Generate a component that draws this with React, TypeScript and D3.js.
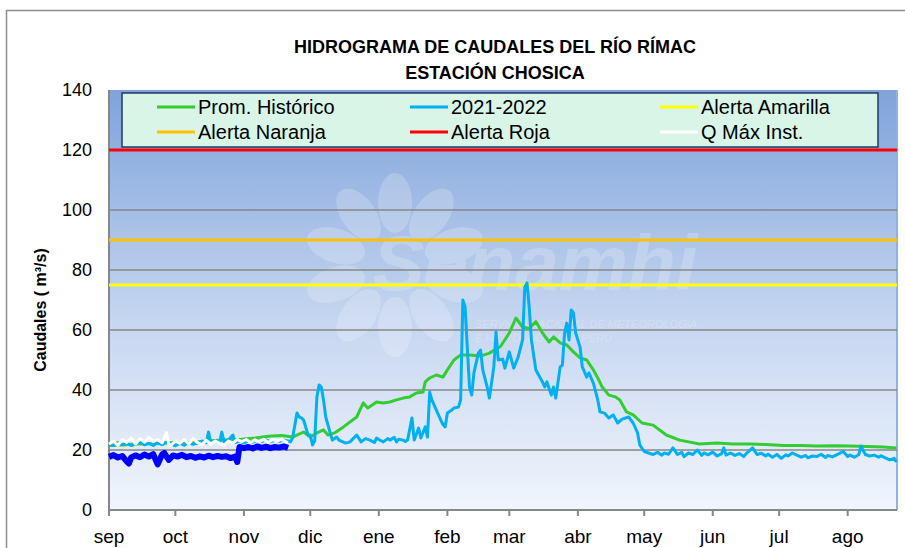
import * as d3 from "d3";

const START = Date.UTC(2021, 8, 1);
const END_DAY = 356.3;

const MONTHS = ["sep", "oct", "nov", "dic", "ene", "feb", "mar", "abr", "may", "jun", "jul", "ago"];
const Y_TICKS = [0, 20, 40, 60, 80, 100, 120, 140];

// Prom. Histórico
const histDays = [0, 6, 12, 18, 24, 30, 36, 42, 48, 54, 60, 66, 72, 78, 83, 88, 91, 94, 97, 99, 102, 106, 112, 115, 117, 121, 124, 127, 130, 133, 136, 139, 142, 143, 145, 148, 151, 153, 156, 159, 163, 168, 172, 177, 181, 184, 187, 190, 193, 196, 199, 201, 204, 207, 210, 213, 216, 219, 221, 223, 226, 229, 231, 234, 237, 241, 246, 252, 258, 267, 275, 282, 290, 297, 305, 313, 320, 328, 335, 343, 350, 356];
const histVals = [21.5, 21.7, 22, 22.1, 22.3, 22.5, 22.6, 22.8, 23.2, 23.4, 23.6, 24, 24.6, 24.8, 24.3, 26, 24.3, 25.7, 26.7, 25, 25.7, 27.7, 31, 35.7, 34, 36, 35.7, 36, 36.7, 37.3, 37.7, 39, 39.3, 42.7, 44, 45, 44.3, 46.7, 50, 51.7, 51.7, 51.3, 52.3, 54.5, 59, 64, 61, 60.5, 62.8, 59, 56, 57.7, 55.7, 55, 52.7, 50.7, 50, 46.7, 44, 41, 38.3, 37.7, 36.7, 32.7, 31.7, 29, 28.3, 25, 23.3, 22, 22.3, 22, 22, 21.8, 21.5, 21.5, 21.3, 21.4, 21.3, 21.2, 21, 20.7];

// 2021-2022
const curDays = [0, 2, 4, 6, 8, 10, 12, 14, 16, 18, 20, 22, 24, 26, 28, 30, 32, 34, 36, 38, 40, 42, 44, 45, 46, 48, 50, 51, 52, 54, 56, 57, 59, 61, 63, 65, 67, 69, 71, 73, 75, 77, 79, 81, 82, 83, 85, 86, 87, 88, 90, 91, 92, 93, 94, 95, 96, 97, 98, 100, 101, 103, 104, 107, 109, 112, 114, 116, 118, 120, 121, 122, 124, 126, 127, 129, 130, 131, 133, 134, 135, 137, 138, 140, 141, 143, 144, 145, 146, 148, 150, 151, 152, 153, 155, 156, 158, 159, 160, 161, 162, 163, 164, 165, 167, 168, 169, 171, 172, 174, 175, 176, 178, 179, 181, 183, 185, 187, 188, 189, 190, 191, 193, 196, 197, 198, 200, 201, 202, 204, 205, 206, 207, 208, 209, 210, 211, 213, 214, 216, 217, 219, 221, 222, 224, 226, 228, 230, 232, 235, 237, 239, 240, 242, 244, 246, 248, 250, 251, 253, 255, 257, 259, 260, 262, 264, 266, 268, 269, 271, 273, 275, 277, 278, 279, 281, 283, 285, 287, 288, 291, 293, 295, 297, 298, 300, 302, 304, 306, 307, 309, 311, 313, 315, 316, 318, 320, 322, 324, 325, 327, 329, 332, 334, 335, 337, 339, 340, 342, 344, 346, 348, 349, 351, 353, 355, 356];
const curVals = [22, 21.5, 22.5, 21.8, 22.3, 21.5, 22, 22.8, 21.7, 22.2, 21.5, 22.4, 21.8, 22.6, 22, 21.4, 22.2, 21.6, 22.5, 21.9, 22.3, 23, 22.4, 26, 22.6, 23, 22.4, 26, 22.8, 23.3, 25, 22.5, 23, 22.4, 23, 22.6, 23.2, 22.8, 23.4, 22.7, 23.2, 22.9, 23.3, 23, 22.7, 24, 32.3, 31, 30.7, 30, 25, 25, 21.7, 23, 37.7, 41.7, 41, 36.7, 31, 25.7, 23.3, 24.3, 23.3, 22.3, 22.7, 25, 22.7, 23.8, 23.3, 22.5, 24, 23.5, 22.7, 23.8, 23.3, 24.2, 22.7, 23.6, 23.3, 22.8, 23.3, 30.7, 23.3, 27.3, 24, 27.7, 24.3, 39.3, 36.7, 33.3, 30, 28.5, 27.7, 32.3, 33.3, 34, 34.3, 36.7, 70, 67.7, 54.3, 41, 38.3, 45.7, 52.3, 53.3, 46.7, 41, 37.3, 47.7, 59.3, 50, 50.3, 47.3, 52.7, 47.3, 51, 56.7, 74.3, 75.7, 67.7, 56.7, 46.7, 42.7, 41, 42.7, 38.3, 41, 37.3, 47.7, 48.3, 59, 62.3, 56.7, 66.7, 65.7, 59, 54.3, 47.7, 44.3, 45.7, 42.3, 36.7, 32.7, 32.3, 30.7, 31.7, 29, 30.3, 31, 29, 25.7, 21.7, 19.5, 19, 18.5, 19.2, 18.3, 19, 18.6, 20.7, 18.5, 19.2, 17.8, 19, 18.5, 20, 18.2, 19, 18.4, 19.3, 18, 18.8, 20.7, 18.3, 19, 18.2, 18.8, 17.8, 18.7, 20.7, 18.5, 18.9, 18, 18.6, 17.6, 18.5, 17.2, 18.4, 18, 19, 18.3, 17.6, 18.2, 17.4, 18, 17.8, 18.6, 17.5, 18.2, 17.7, 18.4, 19.5, 17.8, 18.3, 17.6, 18.4, 21.3, 18.5, 18, 18.3, 17.6, 18.1, 17.4, 16.7, 17.2, 16];

// Q Máx Inst.
const qmaxDays = [0, 2, 4, 6, 8, 10, 12, 14, 16, 18, 20, 22, 24, 26, 27, 28, 30, 32, 34, 36, 38, 40, 42, 44, 46, 48, 50, 52, 54, 56, 58, 60, 62, 64, 66, 68, 70, 72, 74, 76, 78, 80, 81];
const qmaxVals = [22, 23, 21.5, 23.5, 22.5, 24, 22, 23.8, 22.6, 24.2, 22.8, 23.5, 22.4, 25.8, 22, 21.5, 23, 22.2, 23.5, 22, 23.8, 22.5, 21.8, 23.2, 22, 23, 22.2, 21.5, 23, 22.3, 23.5, 22.8, 23.5, 22.5, 23.4, 22.8, 23.6, 22.5, 23.5, 23, 23.6, 22.7, 22.5];

// serie azul oscuro (sin leyenda)
const darkDays = [0, 2, 4, 6, 8, 9, 10, 12, 14, 16, 18, 20, 22, 24, 25, 27, 29, 31, 33, 35, 37, 39, 41, 43, 45, 47, 49, 51, 53, 55, 57, 58, 59, 61, 63, 65, 67, 69, 71, 73, 75, 77, 79, 81];
const darkVals = [17.7, 18.3, 17.5, 18, 16.2, 15.5, 17.5, 18.2, 17.6, 18.5, 17.8, 18.6, 15.2, 18.5, 19, 16.7, 18.2, 17.8, 18.4, 17.6, 18, 17.4, 17.9, 17.5, 18.1, 17.6, 18, 17.7, 17.9, 17.3, 17.8, 16, 21, 20.6, 21, 20.5, 21.2, 20.7, 21.1, 20.6, 21, 20.8, 21.2, 20.7];

const ALERTS = [
  { label: "Alerta Amarilla", value: 75, color: "#ffff00" },
  { label: "Alerta Naranja", value: 90, color: "#ffc000" },
  { label: "Alerta Roja", value: 120, color: "#ff0000" },
];

const LEGEND = [
  { label: "Prom. Histórico", color: "#33cc33" },
  { label: "2021-2022", color: "#00b0f0" },
  { label: "Alerta Amarilla", color: "#ffff00" },
  { label: "Alerta Naranja", color: "#ffc000" },
  { label: "Alerta Roja", color: "#ff0000" },
  { label: "Q Máx Inst.", color: "#ffffff" },
];

const toDate = (d: number) => new Date(START + d * 864e5);

const FONT = "'Liberation Sans Narrow', 'Liberation Sans', Arial, sans-serif";

export default function App() {
  const W = 905, H = 548;
  const m = { left: 109, right: 897, top: 90, bottom: 510 };

  const x = d3.scaleUtc().domain([toDate(0), toDate(END_DAY)]).range([m.left, m.right]);
  const y = d3.scaleLinear().domain([0, 140]).range([m.bottom, m.top]);

  const monthTicks = d3.utcMonth.range(toDate(0), toDate(END_DAY));

  const mkLine = (days: number[], vals: number[]) =>
    d3.line<number>()
      .x((_, i) => x(toDate(days[i])))
      .y(v => y(v))(vals) ?? "";

  const legendCols = [157, 410, 660];
  const legendRows = [107, 132];

  // petalos de la marca de agua
  const petals = d3.range(10).map(i => i * 36);

  return (
    <svg width={W} height={H} style={{ display: "block", position: "absolute", left: 0, top: 0, background: "#fff" }}>
      <defs>
        <linearGradient id="bg" x1="0" y1="0" x2="0" y2="1">
          <stop offset="0%" stopColor="#7fa3da" />
          <stop offset="55%" stopColor="#c6d6f0" />
          <stop offset="100%" stopColor="#f1f5fc" />
        </linearGradient>
      </defs>

      {/* marco exterior */}
      <rect x={6.5} y={10.5} width={W + 20} height={H + 20} fill="#fff" stroke="#8c8c8c" strokeWidth={1.5} />

      {/* titulo */}
      <text x={495} y={53} textAnchor="middle" fontFamily={FONT} fontWeight="bold" fontSize={18}>
        HIDROGRAMA DE CAUDALES DEL RÍO RÍMAC
      </text>
      <text x={495} y={79} textAnchor="middle" fontFamily={FONT} fontWeight="bold" fontSize={18}>
        ESTACIÓN CHOSICA
      </text>

      {/* area de trazado */}
      <rect x={m.left} y={m.top} width={m.right - m.left} height={m.bottom - m.top} fill="url(#bg)" />
      <line x1={m.right} x2={m.right} y1={m.top} y2={m.bottom} stroke="#8eb4e3" strokeWidth={2} />

      {/* marca de agua */}
      <g opacity={0.2} fill="#ffffff">
        <g transform="translate(395,265)">
          {petals.map(a => (
            <ellipse key={a} cx={0} cy={-62} rx={17} ry={30} transform={`rotate(${a})`} />
          ))}
        </g>
        <text x={535} y={290} textAnchor="middle" fontFamily="'Liberation Sans', Arial, sans-serif" fontStyle="italic" fontWeight="bold" fontSize={78}>Senamhi</text>
        <text x={475} y={328} fontFamily="'Liberation Sans', Arial, sans-serif" fontStyle="italic" fontSize={11}>SERVICIO NACIONAL DE METEOROLOGÍA</text>
        <text x={475} y={342} fontFamily="'Liberation Sans', Arial, sans-serif" fontStyle="italic" fontSize={11}>E HIDROLOGÍA DEL PERÚ</text>
      </g>

      {/* rejilla */}
      {Y_TICKS.filter(t => t > 0 && t < 140).map(t => (
        <line key={t} x1={m.left} x2={m.right} y1={y(t)} y2={y(t)} stroke="#878787" strokeWidth={1.5} />
      ))}

      {/* ejes */}
      <line x1={m.left} x2={m.left} y1={m.top} y2={m.bottom} stroke="#878787" strokeWidth={2} />
      <line x1={m.left} x2={m.right} y1={m.bottom} y2={m.bottom} stroke="#878787" strokeWidth={2} />
      {monthTicks.map((d, i) => (
        <g key={i}>
          <line x1={x(d)} x2={x(d)} y1={m.bottom} y2={m.bottom + 6} stroke="#878787" strokeWidth={2} />
          <text x={x(d)} y={543} textAnchor="middle" fontFamily={FONT} fontSize={19}>{MONTHS[i]}</text>
        </g>
      ))}
      {Y_TICKS.map(t => (
        <text key={t} x={92} y={y(t) + 6} textAnchor="end" fontFamily={FONT} fontSize={18}>{t}</text>
      ))}
      <text transform={`translate(46,${310}) rotate(-90)`} textAnchor="middle" fontFamily={FONT} fontWeight="bold" fontSize={16}>
        Caudales ( m³/s)
      </text>

      {/* alertas */}
      {ALERTS.map(a => (
        <line key={a.label} x1={m.left} x2={m.right} y1={y(a.value)} y2={y(a.value)} stroke={a.color} strokeWidth={3} />
      ))}

      {/* series */}
      <path d={mkLine(histDays, histVals)} fill="none" stroke="#33cc33" strokeWidth={3} strokeLinejoin="round" />
      <path d={mkLine(curDays, curVals)} fill="none" stroke="#00b0f0" strokeWidth={3} strokeLinejoin="round" />
      <path d={mkLine(darkDays, darkVals)} fill="none" stroke="#0000ff" strokeWidth={6} strokeLinejoin="round" />
      <path d={mkLine(qmaxDays, qmaxVals)} fill="none" stroke="#ffffff" strokeWidth={3} strokeLinejoin="round" />

      {/* leyenda */}
      <rect x={122} y={93} width={756} height={54} fill="#d9f5e7" stroke="#1f3a60" strokeWidth={1.5} />
      {LEGEND.map((l, i) => {
        const cx = legendCols[i % 3];
        const cy = legendRows[Math.floor(i / 3)];
        return (
          <g key={l.label}>
            <line x1={cx} x2={cx + 38} y1={cy} y2={cy} stroke={l.color} strokeWidth={3} />
            <text x={cx + 41} y={cy + 7} fontFamily={FONT} fontSize={20}>{l.label}</text>
          </g>
        );
      })}
    </svg>
  );
}
